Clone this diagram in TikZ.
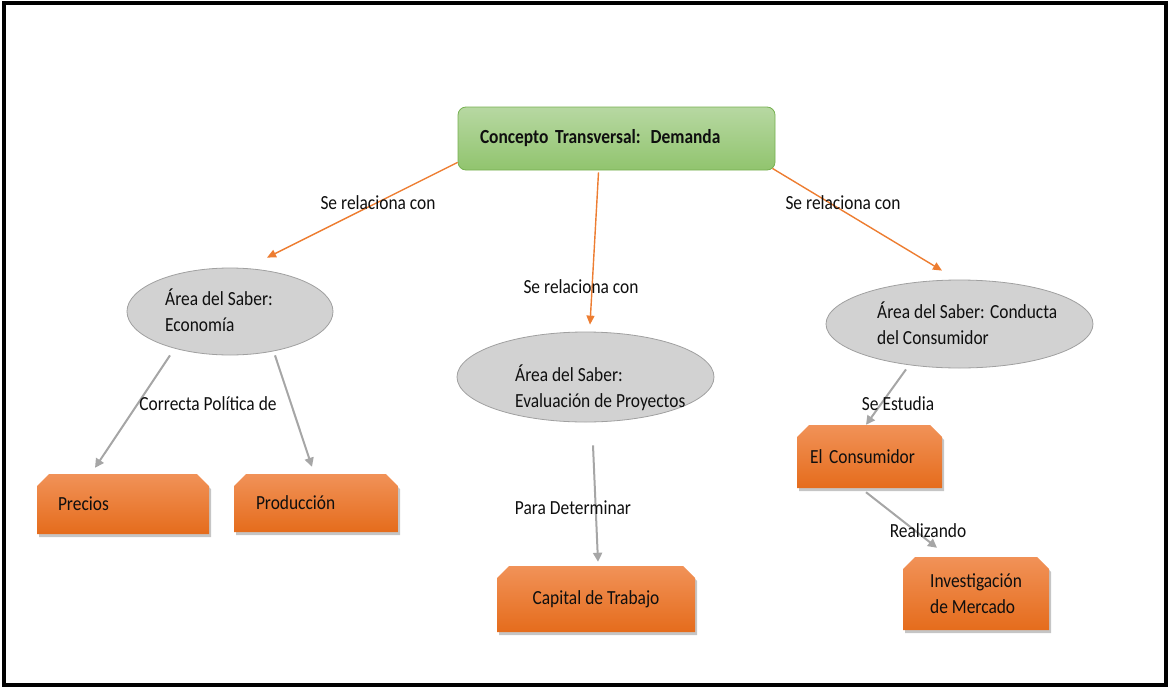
\documentclass[tikz,border=0pt]{standalone}
\usepackage{fontspec}
\setmainfont{Carlito}[FakeStretch=0.87]
\usetikzlibrary{shapes.geometric,shapes.misc,shadows,arrows.meta}
\definecolor{orT}{RGB}{241,146,88}
\definecolor{orB}{RGB}{229,108,28}
\definecolor{grT}{RGB}{183,216,162}
\definecolor{grB}{RGB}{145,196,110}
\definecolor{grD}{RGB}{118,176,80}
\definecolor{elF}{RGB}{210,210,210}
\definecolor{elD}{RGB}{160,160,160}
\definecolor{arO}{RGB}{237,125,49}
\definecolor{arG}{RGB}{166,166,166}
\definecolor{txt}{RGB}{15,15,15}
\newcommand{\diafont}{\fontsize{20}{25.5}\selectfont\spaceskip=4pt plus 1pt minus 0.5pt\relax}
\begin{document}
\begin{tikzpicture}[x=1pt,y=-1pt,
  every node/.style={text=txt, font=\diafont},
  obox/.style={chamfered rectangle, chamfered rectangle corners={north west,north east},
    chamfered rectangle xsep=6pt, chamfered rectangle ysep=6pt,
    top color=orT, bottom color=orB, draw=none, inner sep=0pt, align=left,
    drop shadow={shadow xshift=2pt, shadow yshift=-3pt, fill=black!45, opacity=0.5}},
  gbox/.style={rectangle, rounded corners=8pt, top color=grT, bottom color=grB, draw=grD,
    line width=0.8pt, inner sep=0pt, align=left, minimum width=317pt, minimum height=63pt,
    text width=273pt},
  ell/.style={ellipse, fill=elF, draw=elD, line width=0.8pt, inner sep=0pt},
  etxt/.style={anchor=west, inner sep=0pt, align=left},
  lbl/.style={inner sep=0pt},
  oarr/.style={draw=arO, line width=1.4pt, -{Triangle[length=9pt,width=8pt]}},
  garr/.style={draw=arG, line width=2pt, -{Triangle[length=9pt,width=9pt]}}
]
\useasboundingbox (0,0) rectangle (1169,688);
\draw[line width=4pt, black] (4,3) rectangle (1165.5,684.5);

% nodes
\node[gbox] (green) at (616.5,138.5) {\textbf{Concepto Transversal: Demanda}};
\node[ell, minimum width=206pt, minimum height=87pt] (eco) at (230,311.5) {};
\node[etxt] (ecoT) at (165,310) {Área del Saber:\\Economía};
\node[ell, minimum width=257pt, minimum height=90pt] (eval) at (585.5,377) {};
\node[etxt] (evalT) at (515,388) {Área del Saber:\\Evaluación de Proyectos};
\node[ell, minimum width=267pt, minimum height=88pt] (cond) at (959.5,324) {};
\node[etxt] (condT) at (877,323) {Área del Saber: Conducta\\del Consumidor};

\node[obox, minimum width=172pt, minimum height=60pt, text width=130pt] (precios) at (123,504) {Precios};
\node[obox, minimum width=164pt, minimum height=58pt, text width=120pt] (prod) at (316,503) {Producción};
\node[obox, minimum width=198pt, minimum height=66pt] (capital) at (596,599) {Capital de Trabajo};
\node[obox, minimum width=145pt, minimum height=63pt, text width=119pt] (consum) at (869.5,456.5) {El Consumidor};
\node[obox, minimum width=146pt, minimum height=73pt] (invest) at (976,593.5) {Investigación\\de Mercado};

% connectors
\draw[oarr] ([yshift=8pt]green.south west) -- ([xshift=37pt,yshift=10pt]eco.north);
\draw[oarr] ([xshift=-18pt,yshift=-2pt]green.south) -- ([xshift=4.5pt,yshift=7pt]eval.north);
\draw[oarr] ([xshift=-3pt,yshift=2pt]green.south east) -- ([xshift=-17.5pt,yshift=9pt]cond.north);

\draw[garr] ([xshift=-60pt]eco.south) -- ([xshift=-28pt,yshift=6pt]precios.north);
\draw[garr] ([xshift=45pt]eco.south) -- ([xshift=-4pt,yshift=7pt]prod.north);
\draw[garr] ([xshift=7.5pt,yshift=-23pt]eval.south) -- ([xshift=2pt,yshift=4pt]capital.north);
\draw[garr] ([xshift=-53.5pt,yshift=-1pt]cond.south) -- ([xshift=-3.5pt]consum.north);
\draw[garr] ([xshift=-3.5pt,yshift=-4pt]consum.south) -- ([xshift=-39pt,yshift=9pt]invest.north);

% labels
\node[lbl] (l1) at (378,203) {Se relaciona con};
\node[lbl] (l2) at (581,287) {Se relaciona con};
\node[lbl] (l3) at (843,203) {Se relaciona con};
\node[lbl] (l4) at (208,404) {Correcta Política de};
\node[lbl] (l5) at (573,508) {Para Determinar};
\node[lbl] (l6) at (898,404) {Se Estudia};
\node[lbl] (l7) at (928,531) {Realizando};
\end{tikzpicture}
\end{document}
